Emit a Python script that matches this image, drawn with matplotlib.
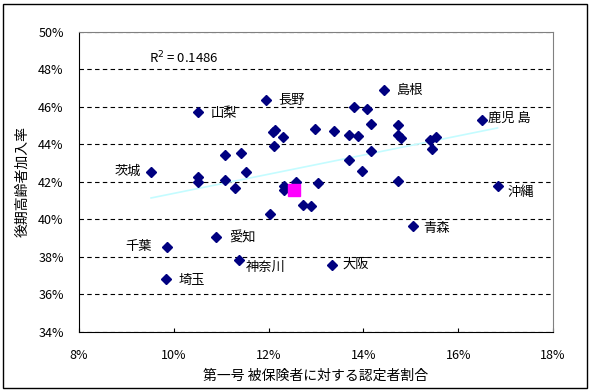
import numpy as np
import matplotlib
matplotlib.use('Agg')
import matplotlib.pyplot as plt
from matplotlib.patches import Rectangle
from matplotlib.ticker import FuncFormatter

plt.rcParams['font.family'] = ['Noto Sans CJK JP', 'DejaVu Sans']

# 第一号被保険者に対する認定者割合 (%) / 後期高齢者加入率 (%)
x_pref = [11.95, 10.52, 12.10, 12.13, 12.31, 12.11, 12.98, 13.37, 11.09, 11.42,
          11.53, 9.52, 10.52, 10.52, 11.07, 11.29, 12.32, 12.32, 12.58, 13.05,
          14.44, 13.80, 14.07, 16.51, 14.15, 14.72, 13.69, 13.88, 14.72, 14.79,
          15.41, 15.53, 15.44, 14.17, 13.69, 13.96, 14.74, 16.83, 12.73, 12.89,
          12.03, 10.90, 9.86, 11.38, 9.83, 13.33, 15.05]
y_pref = [46.35, 45.71, 44.65, 44.75, 44.40, 43.90, 44.84, 44.72, 43.42, 43.55,
          42.51, 42.51, 42.24, 42.00, 42.11, 41.66, 41.80, 41.55, 41.98, 41.95,
          46.89, 46.02, 45.87, 45.29, 45.07, 45.02, 44.52, 44.47, 44.49, 44.35,
          44.24, 44.40, 43.76, 43.63, 43.15, 42.60, 42.07, 41.79, 40.79, 40.74,
          40.29, 39.07, 38.55, 37.86, 36.83, 37.59, 39.63]

# 全国平均
x_avg = [12.53]
y_avg = [41.57]

# ラベル付きの県: 名前, x, y, オフセット(pt), 揃え
lbl_names = ['長野', '山梨', '茨城', '島根', '鹿児 島', '沖縄', '青森', '大阪', '愛知', '千葉', '神奈川', '埼玉']
lbl_x = [11.95, 10.52, 9.52, 14.44, 16.51, 16.83, 15.05, 13.33, 10.90, 9.86, 11.38, 9.83]
lbl_y = [46.35, 45.71, 42.51, 46.89, 45.29, 41.79, 39.63, 37.59, 39.07, 38.55, 37.86, 36.83]
lbl_dx = [9, 9, -7, 9, 4, 7, 7, 8, 9, -11, 5, 9]
lbl_dy = [0, -1, 1, 0, 1.5, -5, -1.5, 0, -1, 0, -5.5, -1]
lbl_ha = ['left', 'left', 'right', 'left', 'left', 'left', 'left', 'left', 'left', 'right', 'left', 'left']

fig = plt.figure(figsize=(5.9, 3.92), dpi=100)
ax = fig.add_axes([0.1339, 0.1531, 0.8034, 0.7653])

# 近似直線
a, b = np.polyfit(x_pref, y_pref, 1)
xl = np.array([min(x_pref), max(x_pref)])
ax.plot(xl, a * xl + b, color='#c4fcff', linewidth=1.2, zorder=2)

ax.plot(x_pref, y_pref, linestyle='none', marker='D', markersize=5,
        color='#000080', zorder=3)
ax.plot(x_avg, y_avg, linestyle='none', marker='s', markersize=8.5,
        color='#ff00ff', zorder=4)

for name, px, py, dx, dy, ha in zip(lbl_names, lbl_x, lbl_y, lbl_dx, lbl_dy, lbl_ha):
    ax.annotate(name, (px, py), xytext=(dx, dy), textcoords='offset points',
                ha=ha, va='center', fontsize=9.5)

ax.text(9.48, 48.6, 'R$^2$ = 0.1486', fontsize=9.5, ha='left', va='center')

ax.set_xlim(8, 18)
ax.set_ylim(34, 50)
ax.set_xticks(np.arange(8, 18.1, 2))
ax.set_yticks(np.arange(34, 50.1, 2))
ax.xaxis.set_major_formatter(FuncFormatter(lambda v, p: '%d%%' % round(v)))
ax.yaxis.set_major_formatter(FuncFormatter(lambda v, p: '%d%%' % round(v)))
ax.tick_params(axis='x', direction='in', length=3, pad=12, labelsize=9)
ax.tick_params(axis='y', direction='in', length=0, pad=11, labelsize=9)

ax.yaxis.grid(True, linestyle=(0, (4, 3)), color='black', linewidth=0.8)
ax.set_axisbelow(True)

for s in ['top', 'right']:
    ax.spines[s].set_color('#808080')
for s in ['left', 'bottom']:
    ax.spines[s].set_color('black')

ax.set_xlabel('第一号 被保険者に対する認定者割合', fontsize=10, labelpad=5)
ax.set_ylabel('後期高齢者加入率', fontsize=10, labelpad=6)

fig.patches.append(Rectangle((3 / 590, 4 / 392), 584 / 590, 384 / 392,
                             transform=fig.transFigure, fill=False,
                             edgecolor='black', linewidth=1))

fig.savefig('out.png', dpi=100)
